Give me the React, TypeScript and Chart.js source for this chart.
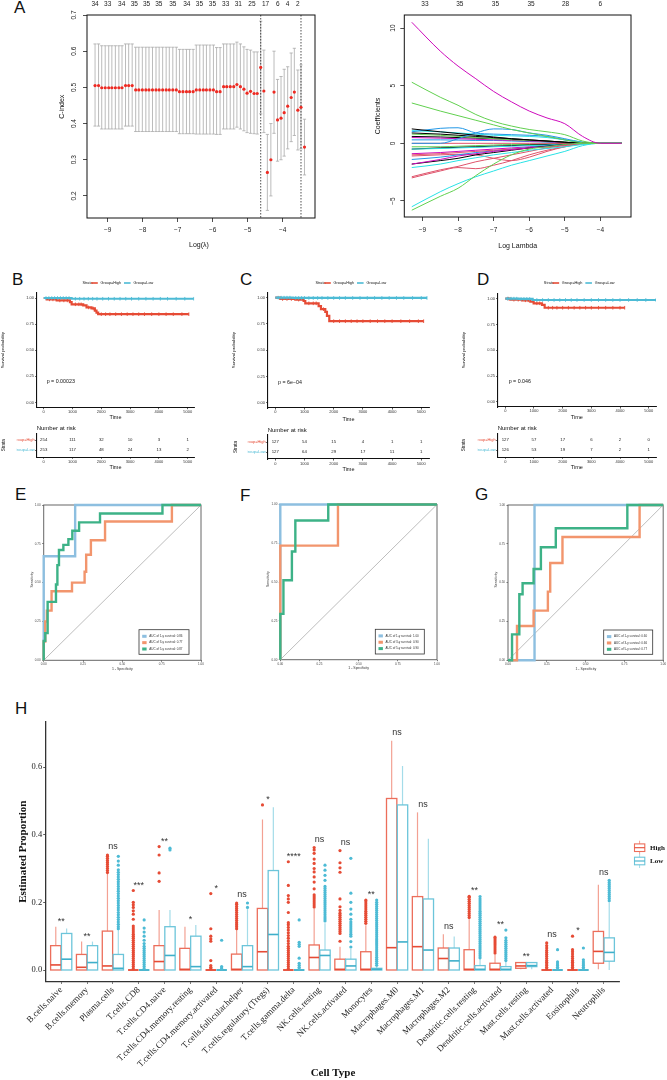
import React, { useEffect, useRef } from "react";
import { Chart, registerables } from "chart.js";

Chart.register(...registerables);

const SANS = '"Liberation Sans", Arial, Helvetica, sans-serif';
const SERIF = '"Liberation Serif", "Times New Roman", serif';
const HIGH = "#E64B35";
const LOW = "#4DBBD5";

/* ================= Panel A (left): cross-validated C-index ================= */
const cvLogLambda = [
  -9.36, -9.26, -9.17, -9.07, -8.97, -8.88, -8.78, -8.68, -8.59, -8.49, -8.4, -8.3, -8.2, -8.11, -8.01, -7.91,
  -7.82, -7.72, -7.62, -7.53, -7.43, -7.33, -7.24, -7.14, -7.04, -6.95, -6.85, -6.75, -6.66, -6.56, -6.47, -6.37,
  -6.27, -6.18, -6.08, -5.98, -5.89, -5.79, -5.69, -5.6, -5.5, -5.4, -5.31, -5.21, -5.11, -5.02, -4.92, -4.82,
  -4.73, -4.63, -4.54, -4.44, -4.34, -4.25, -4.15, -4.05, -3.96, -3.86, -3.76, -3.67, -3.57, -3.48, -3.38,
];
const cvIndex = [
  0.505, 0.505, 0.499, 0.499, 0.499, 0.499, 0.499, 0.499, 0.499, 0.505, 0.505, 0.505, 0.493, 0.493, 0.493, 0.493,
  0.493, 0.493, 0.493, 0.493, 0.493, 0.493, 0.493, 0.493, 0.493, 0.488, 0.488, 0.488, 0.488, 0.488, 0.493, 0.493,
  0.493, 0.493, 0.493, 0.493, 0.488, 0.488, 0.502, 0.502, 0.502, 0.502, 0.508, 0.502, 0.495, 0.484, 0.489, 0.483,
  0.483, 0.555, 0.49, 0.265, 0.3, 0.487, 0.41, 0.415, 0.43, 0.448, 0.472, 0.487, 0.437, 0.445, 0.335,
];
const cvUpper = [
  0.62, 0.62, 0.615, 0.615, 0.615, 0.615, 0.615, 0.615, 0.615, 0.62, 0.62, 0.62, 0.611, 0.611, 0.611, 0.611,
  0.611, 0.611, 0.611, 0.611, 0.611, 0.611, 0.611, 0.611, 0.611, 0.605, 0.605, 0.605, 0.605, 0.605, 0.617, 0.617,
  0.617, 0.617, 0.617, 0.617, 0.61, 0.61, 0.62, 0.62, 0.62, 0.62, 0.625, 0.62, 0.612, 0.605, 0.603, 0.598,
  0.598, 0.683, 0.603, 0.37, 0.4, 0.6, 0.522, 0.53, 0.55, 0.557, 0.595, 0.608, 0.548, 0.562, 0.412,
];
const cvLower = [
  0.393, 0.393, 0.385, 0.385, 0.385, 0.385, 0.385, 0.385, 0.385, 0.393, 0.393, 0.393, 0.378, 0.378, 0.378, 0.378,
  0.378, 0.378, 0.378, 0.378, 0.378, 0.378, 0.378, 0.378, 0.378, 0.372, 0.372, 0.372, 0.372, 0.372, 0.371, 0.371,
  0.371, 0.371, 0.371, 0.371, 0.37, 0.37, 0.385, 0.385, 0.385, 0.385, 0.39, 0.385, 0.38, 0.375, 0.373, 0.372,
  0.371, 0.427, 0.375, 0.16, 0.2, 0.373, 0.296, 0.3, 0.31, 0.33, 0.35, 0.367, 0.327, 0.33, 0.258,
];
const cvTopAt = [-9.36, -9.0, -8.6, -8.24, -7.89, -7.54, -7.14, -6.74, -6.38, -6.01, -5.63, -5.27, -4.88, -4.49, -4.14, -3.86, -3.57];
const cvTopLabels = ["34", "33", "34", "35", "35", "35", "35", "34", "35", "35", "33", "31", "25", "17", "6", "4", "2"];
const cvXTicks = [-9, -8, -7, -6, -5, -4];
const cvYTicks = [0.2, 0.3, 0.4, 0.5, 0.6, 0.7];
const lambdaMinLog = -4.63;
const lambda1seLog = -3.48;

/* ================= Panel A (right): coefficient paths ================= */
const coefLogLambda = [-9.3, -8.5, -8, -7.5, -7, -6.5, -6, -5.5, -5, -4.5, -4, -3.4];
const coefPaths = [
  [10.5, 8.0, 6.7, 5.6, 4.5, 3.6, 2.8, 2.2, 1.7, 0.6, 0, 0],
  [5.3, 4.0, 3.3, 2.5, 1.9, 1.5, 1.2, 1.0, 0.75, 0.2, 0, 0],
  [3.5, 2.8, 2.4, 2.0, 1.6, 1.2, 0.9, 0.6, 0.3, 0.05, 0, 0],
  [-5.8, -4.6, -3.9, -2.8, -1.8, -1.0, -0.5, -0.3, -0.1, 0, 0, 0],
  [-5.5, -4.2, -3.5, -2.9, -2.4, -1.9, -1.5, -1.1, -0.7, -0.2, 0, 0],
  [-2.1, -1.8, -1.5, -1.25, -1.0, -0.8, -0.6, -0.45, -0.3, -0.1, 0, 0],
  [-3.0, -2.4, -2.1, -2.2, -1.9, -1.5, -1.0, -0.6, -0.3, -0.05, 0, 0],
  [-2.9, -2.3, -2.0, -1.6, -1.3, -1.0, -0.7, -0.4, -0.2, 0, 0, 0],
  [-1.8, -1.4, -1.1, -0.9, -0.7, -0.55, -0.4, -0.3, -0.15, 0, 0, 0],
  [1.25, 1.0, 0.85, 0.7, 0.55, 0.4, 0.3, 0.2, 0.1, 0.02, 0, 0],
  [-1.8, -1.5, -1.3, -1.0, -0.8, -0.6, -0.4, -0.25, -0.1, 0, 0, 0],
  [1.0, 1.3, 1.35, 0.9, 0.8, 0.75, 0.7, 0.6, 0.3, 0.05, 0, 0],
  [0.0, 0.0, 0.4, 0.9, 1.25, 1.2, 0.9, 0.7, 0.4, 0.1, 0, 0],
  [0.9, 0.8, 0.7, 0.6, 0.5, 0.4, 0.3, 0.2, 0.1, 0, 0, 0],
  [0.0, 0.0, 0.0, 0.0, 0.0, 0.0, 0.0, 0.0, 0.0, 0.0, 0, 0],
  [0.8, 0.7, 0.6, 0.5, 0.4, 0.3, 0.25, 0.2, 0.1, 0, 0, 0],
  [0.5, 0.45, 0.4, 0.35, 0.3, 0.25, 0.2, 0.15, 0.05, 0, 0, 0],
  [-1.0, -0.9, -0.8, -0.7, -0.6, -0.5, -0.4, -0.3, -0.15, 0, 0, 0],
  [-1.4, -1.2, -1.0, -0.8, -0.65, -0.5, -0.35, -0.2, -0.1, 0, 0, 0],
  [-0.5, -0.45, -0.4, -0.35, -0.3, -0.25, -0.2, -0.15, -0.1, -0.05, 0, 0],
  [-0.5, -0.4, -0.35, -0.3, -0.25, -0.2, -0.15, -0.1, -0.05, 0, 0, 0],
  [0.3, 0.3, 0.28, 0.25, 0.25, 0.2, 0.15, 0.1, 0.05, 0, 0, 0],
  [-0.3, -0.3, -0.25, -0.2, -0.15, -0.1, -0.1, -0.05, 0, 0, 0, 0],
  [-1.1, -1.0, -0.95, -1.0, -1.3, -1.5, -1.2, -0.7, -0.3, 0, 0, 0],
  [0.6, 0.55, 0.5, 0.45, 0.4, 0.35, 0.25, 0.15, 0.05, 0, 0, 0],
  [1.1, 1.0, 0.9, 0.8, 0.7, 0.65, 0.6, 0.5, 0.3, 0.1, 0, 0],
  [-0.9, -0.8, -0.7, -0.6, -0.5, -0.4, -0.3, -0.2, -0.1, 0, 0, 0],
];
const coefColorIdx = [5, 2, 2, 2, 4, 4, 1, 1, 5, 0, 0, 3, 3, 0, 1, 2, 5, 1, 3, 4, 0, 3, 2, 1, 0, 4, 5];
const rPalette = ["#000000", "#DF536B", "#61D04F", "#2297E6", "#28E2E5", "#CD0BBC"];
const coefTopAt = [-8.93, -7.95, -6.95, -5.95, -4.98, -4.0];
const coefTopLabels = ["33", "35", "35", "35", "28", "6"];
const coefXTicks = [-9, -8, -7, -6, -5, -4];
const coefYTicks = [-5, 0, 5, 10];

/* ================= Panels B-D: Kaplan-Meier ================= */
const kmB_highT = [0, 104, 450, 911, 970, 1372, 1488, 1660, 1776, 1834, 1891, 5040];
const kmB_highS = [1, 0.987, 0.977, 0.96, 0.94, 0.93, 0.91, 0.9, 0.88, 0.86, 0.845, 0.845];
const kmB_lowT = [0, 970, 5213];
const kmB_lowS = [1, 0.993, 0.993];
const kmB_highCens = [200, 320, 560, 700, 820, 1100, 1220, 1300, 1560, 1720, 2000, 2150, 2300, 2500, 2700, 2900, 3100, 3300, 3500, 3750, 4000, 4250, 4500, 4800, 5040];
const kmB_lowCens = [80, 180, 280, 380, 480, 580, 680, 780, 880, 1100, 1250, 1400, 1550, 1700, 1850, 2050, 2250, 2450, 2650, 2850, 3050, 3300, 3550, 3800, 4050, 4300, 4600, 4900, 5213];
const riskB_high = [254, 111, 32, 10, 3, 1];
const riskB_low = [253, 117, 48, 24, 13, 2];

const kmC_highT = [0, 171, 685, 970, 1027, 1484, 1564, 1712, 1769, 1849, 5080];
const kmC_highS = [1, 0.987, 0.981, 0.968, 0.946, 0.92, 0.89, 0.865, 0.827, 0.776, 0.776];
const kmC_lowT = [0, 600, 5194];
const kmC_lowS = [1, 0.997, 0.997];
const kmC_highCens = [250, 400, 550, 800, 1150, 1300, 1400, 1650, 2000, 2200, 2400, 2600, 2800, 3000, 3250, 3500, 3750, 4000, 4300, 4600, 4900, 5080];
const kmC_lowCens = [100, 200, 300, 400, 500, 700, 800, 900, 1000, 1150, 1300, 1450, 1600, 1800, 2000, 2200, 2400, 2650, 2900, 3150, 3400, 3650, 3900, 4150, 4400, 4700, 5000, 5194];
const riskC_high = [127, 54, 15, 4, 1, 1];
const riskC_low = [127, 64, 29, 17, 11, 1];

const kmD_highT = [0, 174, 581, 872, 988, 1279, 1372, 4163];
const kmD_highS = [1, 0.99, 0.984, 0.97, 0.955, 0.94, 0.912, 0.912];
const kmD_lowT = [0, 465, 953, 5256];
const kmD_lowS = [1, 0.997, 0.987, 0.987];
const kmD_highCens = [100, 300, 450, 700, 800, 1100, 1200, 1500, 1650, 1800, 2000, 2200, 2400, 2600, 2800, 3000, 3250, 3500, 3750, 4000, 4163];
const kmD_lowCens = [80, 200, 300, 400, 550, 650, 750, 850, 1100, 1300, 1500, 1700, 1900, 2100, 2300, 2500, 2750, 3000, 3250, 3500, 3750, 4000, 4300, 4600, 4900, 5256];
const riskD_high = [127, 57, 17, 6, 2, 0];
const riskD_low = [126, 53, 19, 7, 2, 1];

const riskTimes = [0, 1000, 2000, 3000, 4000, 5000];
const kmYTicks = [0, 0.25, 0.5, 0.75, 1];
const kmYLabels = ["0.00", "0.25", "0.50", "0.75", "1.00"];

/* ================= Panels E-G: ROC ================= */
const rocE_blueFpr = [0, 0, 0.2, 0.2, 1];
const rocE_blueTpr = [0, 0.67, 0.67, 1, 1];
const rocE_orangeFpr = [0, 0, 0.01, 0.01, 0.02, 0.02, 0.05, 0.05, 0.18, 0.18, 0.26, 0.26, 0.27, 0.27, 0.3, 0.3, 0.39, 0.39, 0.815, 0.815, 1];
const rocE_orangeTpr = [0, 0.12, 0.12, 0.25, 0.25, 0.32, 0.32, 0.445, 0.445, 0.5, 0.5, 0.57, 0.57, 0.68, 0.68, 0.773, 0.773, 0.894, 0.894, 1, 1];
const rocE_greenFpr = [0, 0, 0.01, 0.01, 0.025, 0.025, 0.078, 0.078, 0.087, 0.087, 0.097, 0.097, 0.125, 0.125, 0.157, 0.157, 0.182, 0.182, 0.225, 0.225, 0.358, 0.358, 0.755, 0.755, 1];
const rocE_greenTpr = [0, 0.125, 0.125, 0.175, 0.175, 0.376, 0.376, 0.488, 0.488, 0.613, 0.613, 0.71, 0.71, 0.743, 0.743, 0.78, 0.78, 0.834, 0.834, 0.888, 0.888, 0.945, 0.945, 1, 1];
const rocE_auc = ["0.86", "0.77", "0.87"];

const rocF_blueFpr = [0, 0, 1];
const rocF_blueTpr = [0, 1, 1];
const rocF_orangeFpr = [0, 0, 0.368, 0.368, 1];
const rocF_orangeTpr = [0, 0.735, 0.735, 1, 1];
const rocF_greenFpr = [0, 0, 0.02, 0.02, 0.074, 0.074, 0.096, 0.096, 0.306, 0.306, 1];
const rocF_greenTpr = [0, 0.295, 0.295, 0.512, 0.512, 0.697, 0.697, 0.897, 0.897, 1, 1];
const rocF_auc = ["1.00", "0.90", "0.90"];

const rocG_blueFpr = [0, 0.171, 0.171, 1];
const rocG_blueTpr = [0, 0, 1, 1];
const rocG_orangeFpr = [0, 0.058, 0.058, 0.165, 0.165, 0.257, 0.257, 0.272, 0.272, 0.351, 0.351, 0.848, 0.848, 1];
const rocG_orangeTpr = [0, 0, 0.221, 0.221, 0.32, 0.32, 0.442, 0.442, 0.627, 0.627, 0.794, 0.794, 1, 1];
const rocG_greenFpr = [0, 0.026, 0.026, 0.073, 0.073, 0.094, 0.094, 0.165, 0.165, 0.212, 0.212, 0.308, 0.308, 0.769, 0.769, 1];
const rocG_greenTpr = [0, 0, 0.167, 0.167, 0.425, 0.425, 0.496, 0.496, 0.588, 0.588, 0.728, 0.728, 0.85, 0.85, 1, 1];
const rocG_auc = ["0.60", "0.66", "0.77"];

const rocTicks = [0, 0.25, 0.5, 0.75, 1];
const rocTickLabels = ["0.00", "0.25", "0.50", "0.75", "1.00"];
const rocYears = ["1", "3", "5"];

/* ================= Panel H: immune cell boxplots ================= */
const cellTypes = [
  "B.cells.naive", "B.cells.memory", "Plasma.cells", "T.cells.CD8", "T.cells.CD4.naive",
  "T.cells.CD4.memory.resting", "T.cells.CD4.memory.activated", "T.cells.follicular.helper",
  "T.cells.regulatory.(Tregs)", "T.cells.gamma.delta", "NK.cells.resting", "NK.cells.activated",
  "Monocytes", "Macrophages.M0", "Macrophages.M1", "Macrophages.M2", "Dendritic.cells.resting",
  "Dendritic.cells.activated", "Mast.cells.resting", "Mast.cells.activated", "Eosinophils", "Neutrophils",
];
// [lower whisker, Q1, median, Q3, upper whisker]
const highStats = [
  [0, 0, 0.015, 0.072, 0.128], [0, 0, 0.008, 0.046, 0.084], [0, 0, 0.012, 0.115, 0.285], [0, 0, 0, 0, 0],
  [0, 0, 0.025, 0.072, 0.177], [0, 0, 0.002, 0.064, 0.128], [0, 0, 0, 0, 0], [0, 0, 0.002, 0.047, 0.118],
  [0, 0, 0.054, 0.182, 0.445], [0, 0, 0, 0, 0], [0, 0, 0.037, 0.074, 0.18], [0, 0, 0.002, 0.032, 0.069],
  [0, 0, 0.002, 0.054, 0.132], [0, 0, 0.066, 0.507, 0.678], [0, 0, 0.069, 0.217, 0.466], [0, 0, 0.034, 0.065, 0.106],
  [0, 0, 0.002, 0.06, 0.15], [0, 0, 0.002, 0.02, 0.045], [0.002, 0.005, 0.012, 0.022, 0.024], [0, 0, 0, 0, 0],
  [0, 0, 0, 0, 0], [0.002, 0.02, 0.055, 0.114, 0.252],
];
const lowStats = [
  [0, 0, 0.032, 0.108, 0.123], [0, 0, 0.022, 0.072, 0.084], [0, 0, 0.005, 0.046, 0.118], [0, 0, 0, 0, 0],
  [0, 0, 0.043, 0.128, 0.177], [0, 0, 0.01, 0.1, 0.133], [0, 0, 0, 0, 0], [0, 0, 0.01, 0.072, 0.18],
  [0, 0, 0.105, 0.294, 0.481], [0, 0, 0, 0, 0], [0, 0, 0.043, 0.059, 0.138], [0, 0, 0.012, 0.032, 0.062],
  [0, 0, 0.002, 0.005, 0.012], [0, 0, 0.083, 0.488, 0.603], [0, 0, 0.059, 0.21, 0.388], [0, 0, 0.027, 0.065, 0.099],
  [0, 0, 0.002, 0.013, 0.034], [0, 0, 0.002, 0.01, 0.025], [0.002, 0.01, 0.013, 0.022, 0.022], [0, 0, 0, 0, 0],
  [0, 0, 0, 0, 0], [0, 0.026, 0.052, 0.095, 0.2],
];
const highOutliers = [
  [], [], [0.288, 0.294, 0.3, 0.306, 0.312, 0.318, 0.324, 0.33, 0.336, 0.34],
  [0.004, 0.01, 0.016, 0.022, 0.028, 0.034, 0.04, 0.046, 0.052, 0.058, 0.064, 0.07, 0.076, 0.082, 0.088, 0.094, 0.1, 0.106, 0.112, 0.118, 0.124, 0.13, 0.15, 0.165, 0.175, 0.185, 0.193, 0.2, 0.235],
  [0.262, 0.287, 0.34, 0.365], [],
  [0.004, 0.008, 0.013, 0.028, 0.085, 0.092, 0.1, 0.122, 0.226],
  [0.122, 0.128, 0.134, 0.14, 0.146, 0.152, 0.158, 0.164, 0.17, 0.176, 0.182, 0.188, 0.194, 0.198],
  [0.488],
  [0.004, 0.01, 0.016, 0.022, 0.028, 0.034, 0.04, 0.046, 0.052, 0.058, 0.064, 0.07, 0.078, 0.086, 0.094, 0.102, 0.11, 0.118, 0.126, 0.134, 0.14, 0.17, 0.2, 0.21, 0.22, 0.25, 0.32],
  [0.186, 0.192, 0.198, 0.204, 0.21, 0.216, 0.222, 0.24, 0.26, 0.275, 0.29, 0.3, 0.315, 0.328, 0.345, 0.355, 0.362],
  [0.085, 0.108, 0.114, 0.12, 0.126, 0.132, 0.138, 0.144, 0.15, 0.156, 0.162, 0.168, 0.176, 0.187, 0.21, 0.289, 0.302, 0.317, 0.353],
  [0.138, 0.144, 0.15, 0.156, 0.162, 0.168, 0.174, 0.18, 0.186, 0.192, 0.198, 0.204, 0.207],
  [], [], [],
  [0.155, 0.161, 0.167, 0.173, 0.179, 0.185, 0.191, 0.197, 0.203, 0.209, 0.215, 0.218],
  [0.05, 0.056, 0.062, 0.068, 0.074, 0.08, 0.086, 0.092, 0.097],
  [],
  [0.003, 0.008, 0.013, 0.018, 0.023, 0.028, 0.034, 0.04, 0.046, 0.052, 0.058, 0.065, 0.072, 0.08],
  [0.003, 0.008, 0.013, 0.018, 0.023, 0.028, 0.034, 0.04, 0.047, 0.054, 0.06, 0.1],
  [],
];
const lowOutliers = [
  [], [],
  [0.122, 0.128, 0.135, 0.142, 0.149, 0.156, 0.163, 0.17, 0.177, 0.184, 0.191, 0.198, 0.205, 0.212, 0.219, 0.226, 0.233, 0.24, 0.247, 0.254, 0.261, 0.268, 0.275, 0.282, 0.289, 0.296, 0.31, 0.322, 0.336],
  [0.004, 0.01, 0.016, 0.022, 0.028, 0.034, 0.04, 0.046, 0.052, 0.058, 0.064, 0.07, 0.078, 0.088, 0.1, 0.112, 0.124, 0.148],
  [0.355, 0.36], [],
  [0.003, 0.006, 0.01, 0.088],
  [0.185, 0.198],
  [],
  [0.003, 0.008, 0.014, 0.02, 0.035, 0.07, 0.076, 0.082, 0.148],
  [0.145, 0.151, 0.157, 0.163, 0.169, 0.175, 0.181, 0.187, 0.193, 0.199, 0.205, 0.211, 0.217, 0.223, 0.229, 0.235, 0.241, 0.247, 0.265, 0.28, 0.295, 0.31],
  [0.068, 0.084, 0.1, 0.106, 0.112, 0.118, 0.124, 0.13, 0.136, 0.142, 0.15, 0.165, 0.18, 0.2, 0.227, 0.33],
  [0.014, 0.02, 0.026, 0.032, 0.038, 0.044, 0.05, 0.056, 0.062, 0.068, 0.074, 0.08, 0.086, 0.092, 0.098, 0.104, 0.11, 0.116, 0.122, 0.128, 0.134, 0.14, 0.146, 0.152, 0.158, 0.164, 0.17, 0.176, 0.182, 0.188, 0.194, 0.2, 0.207],
  [], [], [],
  [0.036, 0.042, 0.048, 0.054, 0.06, 0.066, 0.072, 0.078, 0.084, 0.09, 0.096, 0.102, 0.108, 0.114, 0.12, 0.126, 0.132, 0.138, 0.144, 0.15, 0.156, 0.162, 0.168, 0.174, 0.18, 0.186, 0.192, 0.198, 0.204, 0.21, 0.217],
  [0.028, 0.034, 0.04, 0.046, 0.052, 0.058, 0.064, 0.07, 0.076, 0.082, 0.088, 0.095, 0.118],
  [],
  [0.003, 0.008, 0.013, 0.018, 0.024, 0.06],
  [0.003, 0.008, 0.013, 0.018, 0.024, 0.03, 0.065],
  [0.205, 0.211, 0.217, 0.223, 0.229, 0.235, 0.241, 0.247, 0.253, 0.259, 0.265],
];
const sigLabels = ["**", "**", "ns", "***", "**", "*", "*", "ns", "*", "****", "ns", "ns", "**", "ns", "ns", "ns", "**", "**", "**", "ns", "*", "ns"];
const hYTicks = [0, 0.2, 0.4, 0.6];
const hYLabels = ["0.0", "0.2", "0.4", "0.6"];
const groupNames = ["High", "Low"];

/* ================= helpers ================= */
type Rect = { l: number; t: number; r: number; b: number };
type Txt = { t: string; x: number; y: number; s: number; c?: string; w?: string; f?: string; a?: CanvasTextAlign; b?: CanvasTextBaseline; r?: number };

function drawTexts(ctx: CanvasRenderingContext2D, o: Rect, items: Txt[]) {
  for (const it of items) {
    ctx.save();
    ctx.translate(it.x - o.l, it.y - o.t);
    if (it.r) ctx.rotate((it.r * Math.PI) / 180);
    ctx.font = `${it.w || "normal"} ${it.s}px ${it.f || SANS}`;
    ctx.fillStyle = it.c || "#111";
    ctx.textAlign = it.a || "center";
    ctx.textBaseline = it.b || "middle";
    ctx.fillText(it.t, 0, 0);
    ctx.restore();
  }
}

function baseOpts(c: Rect, p: Rect, ax: { l?: number; r?: number; t?: number; b?: number }) {
  return {
    responsive: false,
    animation: false,
    devicePixelRatio: 1,
    events: [],
    layout: {
      padding: {
        left: p.l - c.l - (ax.l || 0),
        right: c.r - p.r - (ax.r || 0),
        top: p.t - c.t - (ax.t || 0),
        bottom: c.b - p.b - (ax.b || 0),
      },
    },
    plugins: { legend: { display: false }, tooltip: { enabled: false } },
  };
}

function linAxis(o: any) {
  const horiz = o.pos === "bottom" || o.pos === "top";
  return {
    type: "linear",
    position: o.pos,
    min: o.min,
    max: o.max,
    afterBuildTicks: (s: any) => {
      s.ticks = o.ticks.map((v: number) => ({ value: v }));
    },
    afterFit: (s: any) => {
      if (horiz) s.height = o.size;
      else s.width = o.size;
    },
    ticks: {
      callback: (_v: any, i: number) => o.labels[i],
      autoSkip: false,
      font: { size: o.font, family: o.family || SANS, weight: o.weight || "normal" },
      color: o.color || "#222",
      padding: o.padding ?? 2,
      minRotation: o.rot || 0,
      maxRotation: o.rot || 0,
      crossAlign: o.cross || "near",
    },
    grid: {
      display: (o.tickLen || 0) > 0,
      drawOnChartArea: false,
      drawTicks: true,
      tickLength: o.tickLen || 0,
      color: o.tickColor || "#222",
      lineWidth: o.tickWidth || 0.8,
    },
    border: o.border ? { display: true, color: o.border.color, width: o.border.width } : { display: false },
  };
}

const minus = (v: number) => (v < 0 ? "\u2212" + Math.abs(v) : String(v));

/* ================= chart configs ================= */
function cvConfig(c: Rect, p: Rect) {
  const texts: Txt[] = [
    { t: "Log(\u03bb)", x: 199, y: 245, s: 7 },
    { t: "C-index", x: 61.7, y: 106.7, s: 7, r: -90 },
  ];
  return {
    type: "scatter",
    data: {
      datasets: [
        {
          data: cvLogLambda.map((x, i) => ({ x, y: cvIndex[i] })),
          showLine: false,
          pointRadius: 1.6,
          pointBorderWidth: 0,
          pointBackgroundColor: "#EE2A22",
        },
      ],
    },
    options: {
      ...baseOpts(c, p, { l: 30, b: 20, t: 15 }),
      scales: {
        x: linAxis({ pos: "bottom", min: -9.59, max: -3.08, ticks: cvXTicks, labels: cvXTicks.map(minus), size: 20, font: 6.5, padding: 4.1, tickLen: 4 }),
        x2: linAxis({ pos: "top", min: -9.59, max: -3.08, ticks: cvTopAt, labels: cvTopLabels, size: 15, font: 6.5, padding: 7 }),
        y: linAxis({ pos: "left", min: 0.139, max: 0.7, ticks: cvYTicks, labels: cvYTicks.map((v) => v.toFixed(1)), size: 30, font: 6.5, padding: 4.5, tickLen: 4, rot: 90, cross: "center" }),
      },
    },
    plugins: [
      {
        id: "cvBars",
        beforeDatasetsDraw(chart: any) {
          const { ctx, chartArea } = chart;
          const x = chart.scales.x;
          const y = chart.scales.y;
          ctx.save();
          ctx.strokeStyle = "#A9A9A9";
          ctx.lineWidth = 0.8;
          for (let i = 0; i < cvLogLambda.length; i++) {
            const px = x.getPixelForValue(cvLogLambda[i]);
            const pu = y.getPixelForValue(cvUpper[i]);
            const pl = y.getPixelForValue(cvLower[i]);
            ctx.beginPath();
            ctx.moveTo(px, pu);
            ctx.lineTo(px, pl);
            ctx.moveTo(px - 1.6, pu);
            ctx.lineTo(px + 1.6, pu);
            ctx.moveTo(px - 1.6, pl);
            ctx.lineTo(px + 1.6, pl);
            ctx.stroke();
          }
          ctx.strokeStyle = "#222";
          ctx.setLineDash([1.5, 1.5]);
          for (const v of [lambdaMinLog, lambda1seLog]) {
            const px = x.getPixelForValue(v);
            ctx.beginPath();
            ctx.moveTo(px, chartArea.top);
            ctx.lineTo(px, chartArea.bottom);
            ctx.stroke();
          }
          ctx.restore();
        },
        afterDraw(chart: any) {
          const { ctx, chartArea: a } = chart;
          ctx.save();
          ctx.strokeStyle = "#111";
          ctx.lineWidth = 1;
          ctx.strokeRect(a.left, a.top, a.right - a.left, a.bottom - a.top);
          ctx.restore();
          drawTexts(ctx, c, texts);
        },
      },
    ],
  };
}

function coefConfig(c: Rect, p: Rect) {
  const texts: Txt[] = [
    { t: "Log Lambda", x: 517.7, y: 245.7, s: 7 },
    { t: "Coefficients", x: 377.7, y: 116, s: 7, r: -90 },
  ];
  return {
    type: "scatter",
    data: {
      datasets: coefPaths.map((path, k) => ({
        data: coefLogLambda.map((x, j) => ({ x, y: path[j] })),
        showLine: true,
        borderColor: rPalette[coefColorIdx[k]],
        borderWidth: 1,
        pointRadius: 0,
        tension: 0.4,
        cubicInterpolationMode: "monotone",
      })),
    },
    options: {
      ...baseOpts(c, p, { l: 30, b: 20, t: 15 }),
      scales: {
        x: linAxis({ pos: "bottom", min: -9.51, max: -3.14, ticks: coefXTicks, labels: coefXTicks.map(minus), size: 20, font: 6.5, padding: 5, tickLen: 4 }),
        x2: linAxis({ pos: "top", min: -9.51, max: -3.14, ticks: coefTopAt, labels: coefTopLabels, size: 15, font: 6.5, padding: 7 }),
        y: linAxis({ pos: "left", min: -6.39, max: 11.13, ticks: coefYTicks, labels: coefYTicks.map(minus), size: 30, font: 6.5, padding: 3.5, tickLen: 4, rot: 90, cross: "center" }),
      },
    },
    plugins: [
      {
        id: "coefBox",
        afterDraw(chart: any) {
          const { ctx, chartArea: a } = chart;
          ctx.save();
          ctx.strokeStyle = "#111";
          ctx.lineWidth = 1;
          ctx.strokeRect(a.left, a.top, a.right - a.left, a.bottom - a.top);
          ctx.restore();
          drawTexts(ctx, c, texts);
        },
      },
    ],
  };
}

function stepAt(T: number[], S: number[], t: number) {
  let v = S[0];
  for (let i = 0; i < T.length; i++) if (T[i] <= t) v = S[i];
  return v;
}

function kmConfig(c: Rect, p: Rect, xr: number[], hiT: number[], hiS: number[], hiC: number[], loT: number[], loS: number[], loC: number[], pText: string, pX: number, pY: number, timeY: number, yTitleX: number) {
  const cx = (p.l + p.r) / 2;
  const lg = cx - 33;
  const ly = 283;
  const texts: Txt[] = [
    { t: "Strata", x: lg, y: ly, s: 3.8, a: "left" },
    { t: "Group=High", x: lg + 18, y: ly, s: 3.8, a: "left" },
    { t: "Group=Low", x: lg + 51, y: ly, s: 3.8, a: "left" },
    { t: "Survival probability", x: yTitleX, y: (p.t + p.b) / 2, s: 4.3, r: -90 },
    { t: pText, x: pX, y: pY, s: 5.3, a: "left" },
    { t: "Time", x: cx, y: timeY, s: 5.5 },
  ];
  const line = (T: number[], S: number[], col: string, order: number) => ({
    data: T.map((t, i) => ({ x: t, y: S[i] })),
    showLine: true,
    stepped: "before",
    borderColor: col,
    borderWidth: 2.2,
    pointRadius: 0,
    order,
  });
  const cens = (C: number[], T: number[], S: number[], col: string, order: number) => ({
    data: C.map((t) => ({ x: t, y: stepAt(T, S, t) })),
    showLine: false,
    pointStyle: "line",
    rotation: 90,
    pointRadius: 1.8,
    pointBorderColor: col,
    pointBorderWidth: 0.9,
    order,
  });
  return {
    type: "scatter",
    data: {
      datasets: [line(loT, loS, LOW, 1), cens(loC, loT, loS, LOW, 0), line(hiT, hiS, HIGH, 3), cens(hiC, hiT, hiS, HIGH, 2)],
    },
    options: {
      ...baseOpts(c, p, { l: 20, b: 14 }),
      scales: {
        x: linAxis({ pos: "bottom", min: xr[0], max: xr[1], ticks: riskTimes, labels: riskTimes.map(String), size: 14, font: 4, color: "#333", padding: 0, tickLen: 1.5, border: { color: "#111", width: 1.1 } }),
        y: linAxis({ pos: "left", min: -0.05, max: 1.05, ticks: kmYTicks, labels: kmYLabels, size: 20, font: 4, color: "#333", padding: 1.2, tickLen: 1.5, border: { color: "#111", width: 1.1 } }),
      },
    },
    plugins: [
      {
        id: "kmText",
        afterDraw(chart: any) {
          const ctx = chart.ctx;
          drawTexts(ctx, c, texts);
          ctx.save();
          ctx.lineWidth = 1.6;
          ctx.strokeStyle = HIGH;
          ctx.beginPath();
          ctx.moveTo(lg + 8.7 - c.l, ly - c.t);
          ctx.lineTo(lg + 15.3 - c.l, ly - c.t);
          ctx.stroke();
          ctx.strokeStyle = LOW;
          ctx.beginPath();
          ctx.moveTo(lg + 41.5 - c.l, ly - c.t);
          ctx.lineTo(lg + 48.1 - c.l, ly - c.t);
          ctx.stroke();
          ctx.restore();
        },
      },
    ],
  };
}

function riskConfig(c: Rect, p: Rect, xr: number[], hi: number[], lo: number[], timeY: number, strataX: number) {
  const cx = (p.l + p.r) / 2;
  const texts: Txt[] = [
    { t: "Number at risk", x: p.l, y: p.t - 5, s: 6, a: "left" },
    { t: "Strata", x: strataX, y: (p.t + p.b) / 2, s: 4.5, r: -90 },
    { t: "Time", x: cx, y: timeY, s: 5.5 },
  ];
  return {
    type: "scatter",
    data: { datasets: [] },
    options: {
      ...baseOpts(c, p, { l: 20, b: 14 }),
      scales: {
        x: linAxis({ pos: "bottom", min: xr[0], max: xr[1], ticks: riskTimes, labels: riskTimes.map(String), size: 14, font: 4, color: "#333", padding: 0.5, tickLen: 1.5, border: { color: "#111", width: 1.1 } }),
        y: {
          ...linAxis({ pos: "left", min: 0, max: 2.4, ticks: [0.7, 1.7], labels: ["Group=Low", "Group=High"], size: 20, font: 4, padding: 0.5, tickLen: 1.5, border: { color: "#111", width: 1.1 } }),
        },
      },
    },
    plugins: [
      {
        id: "riskText",
        beforeInit(chart: any) {
          chart.options.scales.y.ticks.color = (ctx: any) => (ctx.index === 0 ? LOW : HIGH);
        },
        afterDraw(chart: any) {
          const { ctx } = chart;
          const x = chart.scales.x;
          const y = chart.scales.y;
          ctx.save();
          ctx.font = `4.3px ${SANS}`;
          ctx.fillStyle = "#222";
          ctx.textAlign = "center";
          ctx.textBaseline = "middle";
          for (let i = 0; i < riskTimes.length; i++) {
            const px = x.getPixelForValue(riskTimes[i]);
            ctx.fillText(String(hi[i]), px, y.getPixelForValue(1.7));
            ctx.fillText(String(lo[i]), px, y.getPixelForValue(0.7));
          }
          ctx.restore();
          drawTexts(ctx, c, texts);
        },
      },
    ],
  };
}

const ROC_BLUE = "#8DBFE0";
const ROC_ORANGE = "#F2956D";
const ROC_GREEN = "#3DB287";

function rocConfig(c: Rect, p: Rect, curves: number[][][], auc: string[], leg: Rect, sensX: number, specY: number) {
  const cols = [ROC_BLUE, ROC_ORANGE, ROC_GREEN];
  const texts: Txt[] = [
    { t: "Sensitivity", x: sensX, y: (p.t + p.b) / 2 - 3, s: 3.5, c: "#333", r: -90 },
    { t: "1 - Specificity", x: (p.l + p.r) / 2, y: specY, s: 3.5, c: "#333" },
  ];
  return {
    type: "scatter",
    data: {
      datasets: [
        { data: [{ x: 0, y: 0 }, { x: 1, y: 1 }], showLine: true, borderColor: "#BDBDBD", borderWidth: 1, pointRadius: 0, order: 10 },
        ...curves.map((cv, k) => ({
          data: cv[0].map((x, i) => ({ x, y: cv[1][i] })),
          showLine: true,
          borderColor: cols[k],
          borderWidth: 2.4,
          pointRadius: 0,
          clip: false,
          order: 3 - k,
        })),
      ],
    },
    options: {
      ...baseOpts(c, p, { l: 14, b: 8 }),
      scales: {
        x: linAxis({ pos: "bottom", min: 0, max: 1, ticks: rocTicks, labels: rocTickLabels, size: 8, font: 3, color: "#444", padding: 0.9, tickLen: 1.5, tickColor: "#555" }),
        y: linAxis({ pos: "left", min: 0, max: 1, ticks: rocTicks, labels: rocTickLabels, size: 14, font: 3, color: "#444", padding: 1.5, tickLen: 1.5, tickColor: "#555" }),
      },
    },
    plugins: [
      {
        id: "rocDeco",
        beforeDatasetsDraw(chart: any) {
          const { ctx, chartArea: a } = chart;
          ctx.save();
          ctx.strokeStyle = "#666";
          ctx.lineWidth = 1;
          ctx.strokeRect(a.left, a.top, a.right - a.left, a.bottom - a.top);
          ctx.restore();
        },
        afterDraw(chart: any) {
          const ctx = chart.ctx;
          ctx.save();
          ctx.fillStyle = "#fff";
          ctx.fillRect(leg.l - c.l, leg.t - c.t, leg.r - leg.l, leg.b - leg.t);
          ctx.strokeStyle = "#333";
          ctx.lineWidth = 0.8;
          ctx.strokeRect(leg.l - c.l, leg.t - c.t, leg.r - leg.l, leg.b - leg.t);
          for (let k = 0; k < 3; k++) {
            const yy = leg.t + 6.6 + k * 6.35 - c.t;
            ctx.fillStyle = cols[k];
            ctx.fillRect(leg.l + 3.2 - c.l, yy - 1.5, 4.4, 3);
            ctx.fillStyle = "#333";
            ctx.font = `3px ${SANS}`;
            ctx.textAlign = "left";
            ctx.textBaseline = "middle";
            ctx.fillText(`AUC of ${rocYears[k]}-y survival: ${auc[k]}`, leg.l + 10.3 - c.l, yy);
          }
          ctx.restore();
          drawTexts(ctx, c, texts);
        },
      },
    ],
  };
}

const BOX_OFF = 0.21;
const BOX_W = 0.4;

function hConfig(c: Rect, p: Rect) {
  const texts: Txt[] = [
    { t: "Estimated Proportion", x: 23, y: 851.7, s: 11, w: "bold", f: SERIF, r: -90 },
    { t: "Cell Type", x: 333, y: 1073, s: 11, w: "bold", f: SERIF },
    { t: groupNames[0], x: 650, y: 847.7, s: 7, w: "bold", f: SERIF, a: "left" },
    { t: groupNames[1], x: 650, y: 861, s: 7, w: "bold", f: SERIF, a: "left" },
  ];
  const groups = [
    { stats: highStats, off: -BOX_OFF, box: "#EC6E5B", med: "#E64B35", wh: "#F3A193" },
    { stats: lowStats, off: BOX_OFF, box: "#6CC5DA", med: "#3EAFCA", wh: "#A4DCE9" },
  ];
  const outl = (lists: number[][], off: number) => lists.flatMap((vals, i) => vals.map((v) => ({ x: i + off, y: v })));
  return {
    type: "scatter",
    data: {
      datasets: [
        { data: outl(highOutliers, -BOX_OFF), pointRadius: 1.6, pointBorderWidth: 0, pointBackgroundColor: HIGH, showLine: false },
        { data: outl(lowOutliers, BOX_OFF), pointRadius: 1.6, pointBorderWidth: 0, pointBackgroundColor: LOW, showLine: false },
      ],
    },
    options: {
      ...baseOpts(c, p, { l: 40, b: 98.7 }),
      scales: {
        x: linAxis({ pos: "bottom", min: -0.6, max: 21.6, ticks: cellTypes.map((_, i) => i), labels: cellTypes, size: 98.7, font: 9, family: SERIF, color: "#222", padding: 1, tickLen: 2.5, tickColor: "#333", rot: 45, border: { color: "#333", width: 1.3 } }),
        y: linAxis({ pos: "left", min: -0.0334, max: 0.734, ticks: hYTicks, labels: hYLabels, size: 40, font: 8.5, family: SERIF, color: "#222", padding: 1, tickLen: 2.5, tickColor: "#333", border: { color: "#333", width: 1.3 } }),
      },
    },
    plugins: [
      {
        id: "boxes",
        beforeDatasetsDraw(chart: any) {
          const { ctx } = chart;
          const x = chart.scales.x;
          const y = chart.scales.y;
          const half = (x.getPixelForValue(BOX_W / 2) - x.getPixelForValue(0));
          ctx.save();
          for (const g of groups) {
            for (let i = 0; i < cellTypes.length; i++) {
              const [lo, q1, md, q3, hi] = g.stats[i];
              const cxp = x.getPixelForValue(i + g.off);
              ctx.lineWidth = 1.2;
              ctx.strokeStyle = g.wh;
              ctx.beginPath();
              ctx.moveTo(cxp, y.getPixelForValue(q3));
              ctx.lineTo(cxp, y.getPixelForValue(hi));
              ctx.moveTo(cxp, y.getPixelForValue(q1));
              ctx.lineTo(cxp, y.getPixelForValue(lo));
              ctx.stroke();
              ctx.strokeStyle = g.box;
              ctx.lineWidth = 1.3;
              const top = y.getPixelForValue(q3);
              const bot = y.getPixelForValue(q1);
              ctx.strokeRect(cxp - half, top, 2 * half, bot - top);
              ctx.strokeStyle = g.med;
              ctx.lineWidth = 1.6;
              ctx.beginPath();
              ctx.moveTo(cxp - half, y.getPixelForValue(md));
              ctx.lineTo(cxp + half, y.getPixelForValue(md));
              ctx.stroke();
            }
          }
          ctx.restore();
        },
        afterDraw(chart: any) {
          const { ctx } = chart;
          const x = chart.scales.x;
          const y = chart.scales.y;
          ctx.save();
          ctx.fillStyle = "#333";
          ctx.textAlign = "center";
          ctx.textBaseline = "alphabetic";
          ctx.font = `9px ${SANS}`;
          for (let i = 0; i < cellTypes.length; i++) {
            const top = Math.max(highStats[i][4], lowStats[i][4], ...highOutliers[i], ...lowOutliers[i]);
            const yc = y.getPixelForValue(top) - 8;
            const star = sigLabels[i] !== "ns";
            ctx.fillText(sigLabels[i], x.getPixelForValue(i), yc + (star ? 5.2 : 2.4));
          }
          const keys = [
            { y: 847.7, box: groups[0].box, med: groups[0].med, wh: groups[0].wh },
            { y: 861, box: groups[1].box, med: groups[1].med, wh: groups[1].wh },
          ];
          for (const k of keys) {
            const yy = k.y - c.t;
            ctx.strokeStyle = k.wh;
            ctx.lineWidth = 1;
            ctx.beginPath();
            ctx.moveTo(639.6, yy - 7);
            ctx.lineTo(639.6, yy + 7);
            ctx.stroke();
            ctx.fillStyle = "#fff";
            ctx.fillRect(634.5, yy - 3.8, 10.3, 7.6);
            ctx.strokeStyle = k.box;
            ctx.lineWidth = 1.1;
            ctx.strokeRect(634.5, yy - 3.8, 10.3, 7.6);
            ctx.strokeStyle = k.med;
            ctx.beginPath();
            ctx.moveTo(634.5, yy);
            ctx.lineTo(644.8, yy);
            ctx.stroke();
          }
          ctx.restore();
          drawTexts(ctx, c, texts);
        },
      },
    ],
  };
}

/* ================= layout ================= */
const R_AL: Rect = { l: 0, t: 0, r: 335, b: 262 };
const P_AL: Rect = { l: 87, t: 15, r: 315, b: 218 };
const R_AR: Rect = { l: 335, t: 0, r: 667, b: 262 };
const P_AR: Rect = { l: 404.3, t: 15, r: 631, b: 217 };

const R_B: Rect = { l: 0, t: 276, r: 222, b: 423 };
const P_B: Rect = { l: 36.7, t: 292.8, r: 194.3, b: 407.7 };
const R_C: Rect = { l: 222, t: 276, r: 445, b: 425 };
const P_C: Rect = { l: 267.7, t: 292.4, r: 429.3, b: 408 };
const R_D: Rect = { l: 445, t: 276, r: 667, b: 423 };
const P_D: Rect = { l: 497.7, t: 293.5, r: 656, b: 407 };

const R_TB: Rect = { l: 0, t: 422, r: 222, b: 473 };
const P_TB: Rect = { l: 36.7, t: 433.3, r: 194.3, b: 457.3 };
const R_TC: Rect = { l: 222, t: 424, r: 445, b: 475 };
const P_TC: Rect = { l: 267.7, t: 435, r: 429.3, b: 459 };
const R_TD: Rect = { l: 445, t: 422, r: 667, b: 473 };
const P_TD: Rect = { l: 497.7, t: 433.3, r: 656, b: 457.3 };

const R_E: Rect = { l: 20, t: 499, r: 222, b: 676 };
const P_E: Rect = { l: 43.7, t: 505, r: 201, b: 660.3 };
const R_F: Rect = { l: 250, t: 499, r: 445, b: 676 };
const P_F: Rect = { l: 280.3, t: 504.5, r: 437, b: 659.7 };
const R_G: Rect = { l: 480, t: 499, r: 667, b: 676 };
const P_G: Rect = { l: 508, t: 505, r: 663.7, b: 660.3 };

const R_H: Rect = { l: 0, t: 712, r: 667, b: 1080 };
const P_H: Rect = { l: 45.7, t: 721.7, r: 619.3, b: 981.3 };

function ChartBox({ rect, make }: { rect: Rect; make: () => any }) {
  const ref = useRef<HTMLCanvasElement | null>(null);
  useEffect(() => {
    if (!ref.current) return;
    const chart = new Chart(ref.current, make());
    return () => chart.destroy();
  }, []);
  const w = rect.r - rect.l;
  const h = rect.b - rect.t;
  return (
    <canvas
      ref={ref}
      width={w}
      height={h}
      style={{ position: "absolute", left: rect.l, top: rect.t, width: w, height: h }}
    />
  );
}

const letters: [string, number, number][] = [
  ["A", 14, -1],
  ["B", 12, 270.6],
  ["C", 240, 270.6],
  ["D", 477, 270.6],
  ["E", 15, 485.6],
  ["F", 240, 487.3],
  ["G", 475, 486.3],
  ["H", 15, 699.6],
];

export default function App() {
  return (
    <div style={{ position: "absolute", left: 0, top: 0, width: 667, height: 1080, background: "#fff", overflow: "hidden" }}>
      {letters.map(([t, x, y]) => (
        <div key={t} style={{ position: "absolute", left: x, top: y, fontFamily: SANS, fontSize: 17, lineHeight: "18px", color: "#111" }}>
          {t}
        </div>
      ))}
      <ChartBox rect={R_AL} make={() => cvConfig(R_AL, P_AL)} />
      <ChartBox rect={R_AR} make={() => coefConfig(R_AR, P_AR)} />
      <ChartBox rect={R_B} make={() => kmConfig(R_B, P_B, [-243, 5230], kmB_highT, kmB_highS, kmB_highCens, kmB_lowT, kmB_lowS, kmB_lowCens, "p = 0.00023", 46.7, 381.7, 417.7, 3.3)} />
      <ChartBox rect={R_C} make={() => kmConfig(R_C, P_C, [-260, 5274], kmC_highT, kmC_highS, kmC_highCens, kmC_lowT, kmC_lowS, kmC_lowCens, "p = 6e\u221204", 278, 382.7, 419.3, 233.7)} />
      <ChartBox rect={R_D} make={() => kmConfig(R_D, P_D, [-265, 5255], kmD_highT, kmD_highS, kmD_highCens, kmD_lowT, kmD_lowS, kmD_lowCens, "p = 0.046", 508.7, 381.7, 417, 463.7)} />
      <ChartBox rect={R_TB} make={() => riskConfig(R_TB, P_TB, [-243, 5230], riskB_high, riskB_low, 467.3, 3.3)} />
      <ChartBox rect={R_TC} make={() => riskConfig(R_TC, P_TC, [-260, 5274], riskC_high, riskC_low, 469.3, 235.3)} />
      <ChartBox rect={R_TD} make={() => riskConfig(R_TD, P_TD, [-265, 5255], riskD_high, riskD_low, 467.3, 463.7)} />
      <ChartBox
        rect={R_E}
        make={() =>
          rocConfig(R_E, P_E, [[rocE_blueFpr, rocE_blueTpr], [rocE_orangeFpr, rocE_orangeTpr], [rocE_greenFpr, rocE_greenTpr]], rocE_auc, { l: 139, t: 629.7, r: 189, b: 654.3 }, 31.7, 669)
        }
      />
      <ChartBox
        rect={R_F}
        make={() =>
          rocConfig(R_F, P_F, [[rocF_blueFpr, rocF_blueTpr], [rocF_orangeFpr, rocF_orangeTpr], [rocF_greenFpr, rocF_greenTpr]], rocF_auc, { l: 375.3, t: 629.3, r: 424.3, b: 654 }, 268, 668.3)
        }
      />
      <ChartBox
        rect={R_G}
        make={() =>
          rocConfig(R_G, P_G, [[rocG_blueFpr, rocG_blueTpr], [rocG_orangeFpr, rocG_orangeTpr], [rocG_greenFpr, rocG_greenTpr]], rocG_auc, { l: 603.7, t: 630, r: 652.7, b: 654.3 }, 496, 669)
        }
      />
      <ChartBox rect={R_H} make={() => hConfig(R_H, P_H)} />
    </div>
  );
}
